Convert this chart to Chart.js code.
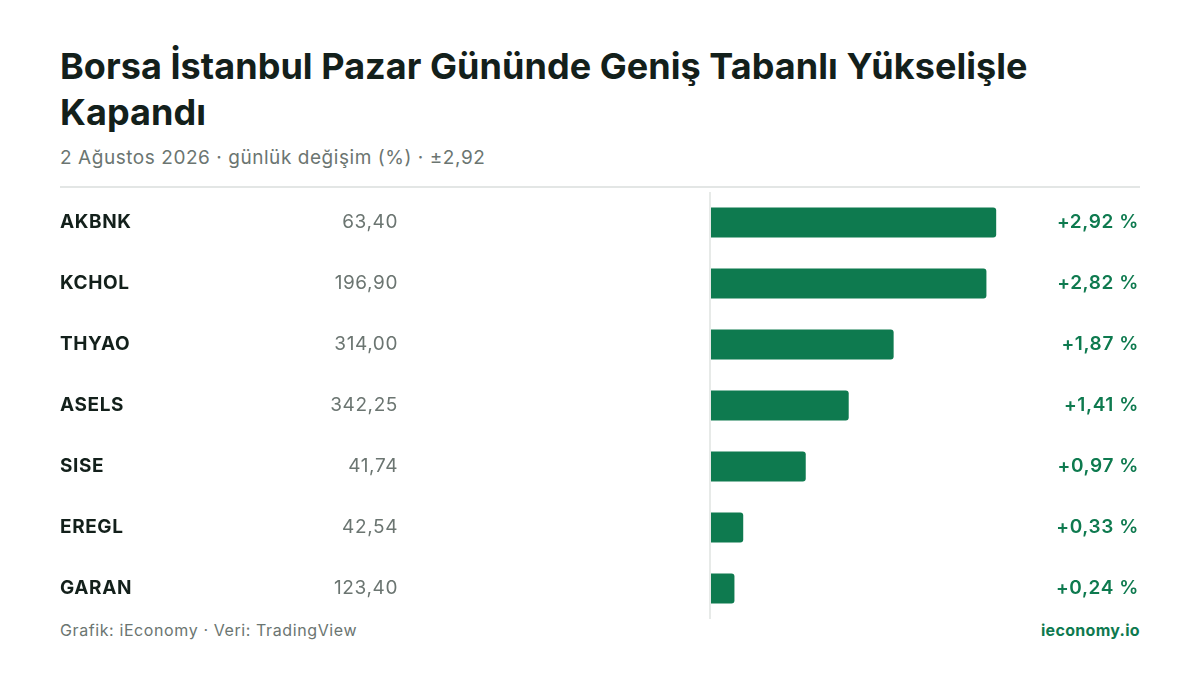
<!DOCTYPE html>
<html>
<head>
<meta charset="utf-8">
<script src="https://cdn.jsdelivr.net/npm/chart.js@4"></script>
<style>
  body { margin: 0; width: 1200px; height: 675px; background: #fff; font-family: Inter, sans-serif; position: relative; overflow: hidden; }
  #title { position: absolute; left: 60px; top: 43px; width: 1100px; font-size: 36px; font-weight: 700; line-height: 46px; color: #13201b; letter-spacing: 0.05px; }
  #sub { position: absolute; left: 60px; top: 146px; font-size: 19px; color: #6b7571; letter-spacing: 0.55px; }
  #rule { position: absolute; left: 60px; top: 186px; width: 1080px; height: 2px; background: #e3e6e5; }
  #wrap { position: absolute; left: 0; top: 192px; width: 1200px; height: 427px; }
  #foot { position: absolute; left: 60px; top: 620px; font-size: 16px; color: #6b7571; letter-spacing: 0.6px; }
  #brand { position: absolute; right: 60px; top: 620px; font-size: 16px; font-weight: 700; color: #0e7a4f; letter-spacing: 0.3px; }
</style>
</head>
<body>
<div id="title">Borsa İstanbul Pazar Gününde Geniş Tabanlı Yükselişle Kapandı</div>
<div id="sub">2 Ağustos 2026 · günlük değişim (%) · ±2,92</div>
<div id="rule"></div>
<div id="wrap"><canvas id="c"></canvas></div>
<div id="foot">Grafik: iEconomy · Veri: TradingView</div>
<div id="brand">ieconomy.io</div>
<script>
const tickers = ["AKBNK", "KCHOL", "THYAO", "ASELS", "SISE", "EREGL", "GARAN"];
const prices = ["63,40", "196,90", "314,00", "342,25", "41,74", "42,54", "123,40"];
const changes = [2.92, 2.82, 1.87, 1.41, 0.97, 0.33, 0.24];
const green = "#0e7a4f";

const rowText = {
    id: 'rowText',
    afterDraw(chart) {
        const ctx = chart.ctx;
        const y = chart.scales.y;
        ctx.save();
        ctx.textBaseline = 'middle';
        ctx.letterSpacing = '0.6px';
        tickers.forEach((t, i) => {
            const yy = y.getPixelForValue(i);
            ctx.font = '700 19px Inter';
            ctx.fillStyle = '#13201b';
            ctx.textAlign = 'left';
            ctx.fillText(t, 60, yy);
            ctx.font = '400 19px Inter';
            ctx.fillStyle = '#6b7571';
            ctx.textAlign = 'right';
            ctx.fillText(prices[i], 398, yy);
            ctx.font = '600 19px Inter';
            ctx.fillStyle = green;
            ctx.fillText('+' + changes[i].toFixed(2).replace('.', ',') + ' %', 1139, yy);
        });
        // zero line
        const x0 = chart.scales.x.getPixelForValue(0);
        ctx.strokeStyle = '#dfe3e1';
        ctx.lineWidth = 1.5;
        ctx.beginPath();
        ctx.moveTo(x0 - 1, -4);
        ctx.lineTo(x0 - 1, chart.height);
        ctx.stroke();
        ctx.restore();
    }
};

new Chart(document.getElementById('c'), {
    type: 'bar',
    data: {
        labels: tickers,
        datasets: [{
            data: changes,
            backgroundColor: green,
            borderRadius: { topRight: 3, bottomRight: 3 },
            borderSkipped: 'start',
            categoryPercentage: 1,
            barPercentage: 0.49
        }]
    },
    options: {
        indexAxis: 'y',
        responsive: true,
        maintainAspectRatio: false,
        animation: false,
        layout: { padding: { left: 711, right: 196, top: 0, bottom: 0 } },
        plugins: { legend: { display: false }, tooltip: { enabled: false } },
        scales: {
            x: { display: false, min: 0, max: 3 },
            y: { display: false }
        }
    },
    plugins: [rowText]
});
</script>
</body>
</html>
